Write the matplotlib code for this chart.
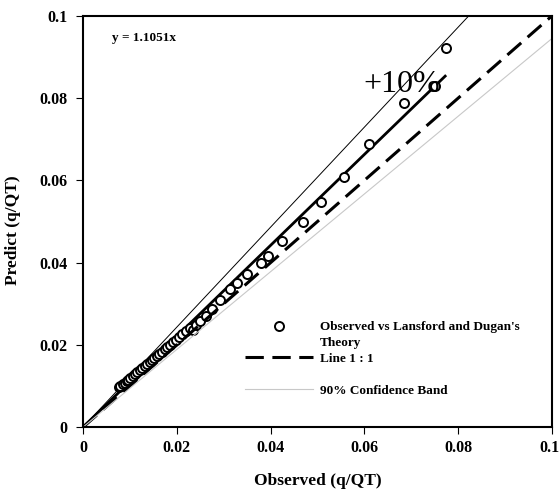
import numpy as np
import matplotlib
matplotlib.use("Agg")
import matplotlib.pyplot as plt
import matplotlib.transforms as mtransforms
from matplotlib.lines import Line2D

plt.rcParams['font.family'] = ['Liberation Serif', 'DejaVu Serif']
plt.rcParams['font.weight'] = 'bold'

# observed vs predicted q/QT
observed = [0.0076, 0.0080, 0.0085, 0.0089, 0.0093, 0.0097, 0.0101, 0.0106,
            0.0111, 0.0116, 0.0121, 0.0127, 0.0132, 0.0137, 0.0142, 0.0147,
            0.0152, 0.0158, 0.0163, 0.0169, 0.0175, 0.0180, 0.0186, 0.0193,
            0.0199, 0.0205, 0.0212, 0.0220, 0.0228, 0.0235, 0.0242, 0.0250,
            0.0262, 0.0276, 0.0292, 0.0313, 0.0328, 0.0349, 0.0379, 0.0395,
            0.0424, 0.0468, 0.0507, 0.0556, 0.0610, 0.0685, 0.0751, 0.0774]
predicted = [0.0098, 0.0101, 0.0105, 0.0108, 0.0112, 0.0116, 0.0120, 0.0124,
             0.0129, 0.0134, 0.0139, 0.0144, 0.0148, 0.0153, 0.0158, 0.0163,
             0.0168, 0.0173, 0.0178, 0.0184, 0.0190, 0.0195, 0.0201, 0.0207,
             0.0213, 0.0219, 0.0226, 0.0234, 0.0241, 0.0236, 0.0248, 0.0258,
             0.0271, 0.0287, 0.0309, 0.0335, 0.0350, 0.0373, 0.0400, 0.0415,
             0.0453, 0.0499, 0.0548, 0.0609, 0.0688, 0.0789, 0.0829, 0.0921]

slope = 1.1051          # fitted y = 1.1051x
upper_slope = slope * 1.1   # +10%
lower_slope = 0.945
fit_end = 0.0772

fig = plt.figure(figsize=(5.6, 4.9), dpi=100)
ax = fig.add_axes([0.148, 0.128, 0.838, 0.840])

xs = np.array([0, 0.1])
ax.plot(xs, upper_slope * xs, color='black', lw=0.7)
ax.plot([0, fit_end], [0, slope * fit_end], color='black', lw=2)
pts, = ax.plot(observed, predicted, 'o', mfc='white', mec='black', mew=1.4, ms=6.5)
one, = ax.plot(xs, xs, color='black', lw=2.2, dashes=(6, 2.8))
band, = ax.plot(xs, lower_slope * xs, color='#c8c8c8', lw=0.8)

ax.text(0.0062, 0.0946, 'y = 1.1051x', fontsize=9.5, fontweight='bold', va='center')
ax.text(0.0597, 0.0815, '+10%', fontsize=23, fontweight='normal', va='baseline')

ax.set_xlim(0, 0.1)
ax.set_ylim(0, 0.1)
ticks = [0, 0.02, 0.04, 0.06, 0.08, 0.1]
labels = ['0', '0.02', '0.04', '0.06', '0.08', '0.1']
ax.set_xticks(ticks)
ax.set_xticklabels(labels)
ax.set_yticks(ticks)
ax.set_yticklabels(labels)
ax.tick_params(direction='out', length=5, width=0.8, labelsize=11.5)
ax.tick_params(axis='x', pad=4)
ax.tick_params(axis='y', pad=6)
for s in ax.spines.values():
    s.set_linewidth(1.5)

# keep the last x label inside the figure edge
last = ax.get_xticklabels()[-1]
last.set_transform(last.get_transform() +
                   mtransforms.ScaledTranslation(-3 / 100, 0, fig.dpi_scale_trans))

ax.set_xlabel('Observed (q/QT)', fontsize=12.5, fontweight='bold')
ax.xaxis.set_label_coords(0.5, -0.11)
ax.set_ylabel('Predict (q/QT)', fontsize=12.5, fontweight='bold')
ax.yaxis.set_label_coords(-0.132, 0.479)

# legend rows: the blank entries keep the Excel-like spacing
blank = Line2D([], [], color='none')
ax.legend([pts, blank, one, blank, band],
          ["Observed vs Lansford and Dugan's", 'Theory', 'Line 1 : 1', ' ',
           '90% Confidence Band'],
          loc='upper left', bbox_to_anchor=(0.345, 0.258), frameon=False,
          prop={'size': 9.5, 'weight': 'bold'}, handlelength=5.2,
          handletextpad=0.5, labelspacing=0.27, borderpad=0, borderaxespad=0)

fig.savefig('out.png', dpi=100)
